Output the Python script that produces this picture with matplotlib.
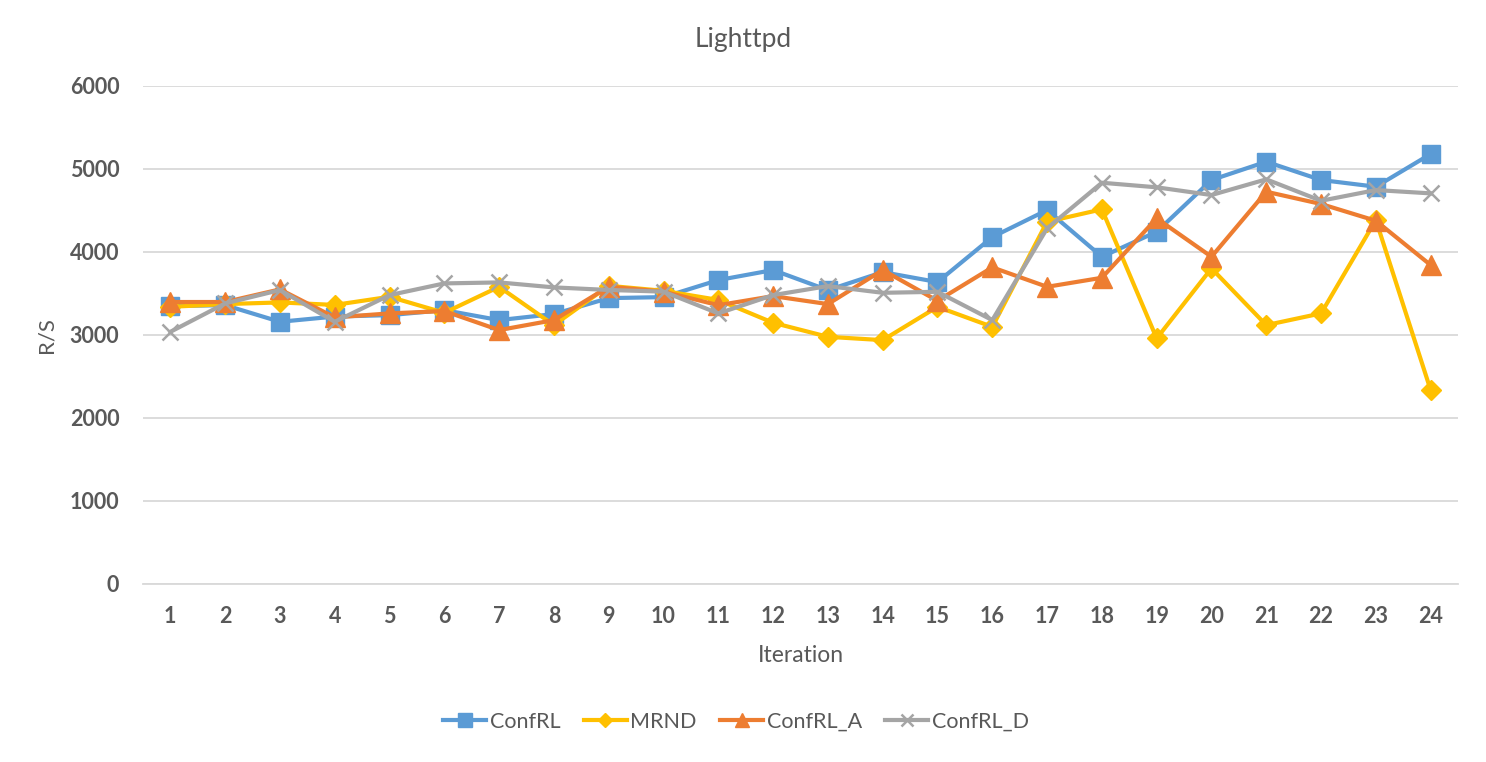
import numpy as np
import matplotlib
matplotlib.use("Agg")
import matplotlib.pyplot as plt

# data
iterations = list(range(1, 25))
confrl = [3346, 3357, 3157, 3220, 3237, 3297, 3177, 3250, 3442, 3454, 3659, 3780,
          3538, 3755, 3635, 4177, 4502, 3940, 4241, 4864, 5084, 4864, 4783, 5177]
mrnd = [3337, 3370, 3390, 3360, 3458, 3265, 3578, 3117, 3590, 3530, 3420, 3145,
        2976, 2936, 3337, 3096, 4361, 4511, 2957, 3800, 3117, 3258, 4382, 2334]
confrl_a = [3395, 3395, 3547, 3210, 3258, 3286, 3057, 3177, 3580, 3520, 3357, 3466,
            3370, 3780, 3410, 3812, 3578, 3687, 4402, 3940, 4723, 4575, 4373, 3840]
confrl_d = [3036, 3378, 3539, 3157, 3478, 3619, 3631, 3571, 3540, 3520, 3258, 3478,
            3587, 3506, 3518, 3177, 4282, 4831, 4776, 4683, 4872, 4614, 4743, 4703]

plt.rcParams['font.family'] = ['Lato', 'DejaVu Sans']
txt = '#595959'
grid_c = '#D9D9D9'

fig = plt.figure(figsize=(14.86, 7.62), dpi=100)
ax = fig.add_axes([0.0962, 0.2336, 0.885, 0.654])

ax.plot(iterations, confrl, color='#5B9BD5', lw=3, marker='s', ms=13, label='ConfRL')
ax.plot(iterations, mrnd, color='#FFC000', lw=3, marker='D', ms=10, label='MRND')
ax.plot(iterations, confrl_a, color='#ED7D31', lw=3, marker='^', ms=14, label='ConfRL_A')
ax.plot(iterations, confrl_d, color='#A5A5A5', lw=3, marker='x', ms=12, mew=1.8,
        label='ConfRL_D')

ax.set_xlim(0.5, 24.5)
ax.set_ylim(0, 6000)
ax.set_yticks(range(0, 6001, 1000))
ax.set_xticks(iterations)
ax.grid(axis='y', color=grid_c, lw=1.3)
ax.set_axisbelow(True)
for s in ['top', 'right', 'left']:
    ax.spines[s].set_visible(False)
ax.spines['bottom'].set_color(grid_c)
ax.spines['bottom'].set_linewidth(1.3)
ax.tick_params(axis='y', length=0, labelsize=15.5, labelcolor=txt, pad=17)
ax.tick_params(axis='x', length=0, labelsize=15.5, labelcolor=txt, pad=16)
for lab in ax.get_xticklabels() + ax.get_yticklabels():
    lab.set_fontweight('bold')

fig.text(743 / 1486, 1 - 40 / 762, 'Lighttpd', fontsize=19,
         color=txt, ha='center', va='center')
ax.set_xlabel('Iteration', fontsize=16.5, color=txt, va='center')
ax.xaxis.set_label_coords(0.5, -0.1425)
ax.set_ylabel('R/S', fontsize=16, color=txt, va='center')
ax.yaxis.set_label_coords(-0.073, 0.5)

fig.legend(loc='center', bbox_to_anchor=(736 / 1486, 1 - 722 / 762), ncol=4,
           frameon=False, fontsize=15.5, labelcolor=txt, handlelength=2.0,
           columnspacing=1.1, handletextpad=0.15, markerscale=0.75)

fig.savefig('out.png', dpi=100)
